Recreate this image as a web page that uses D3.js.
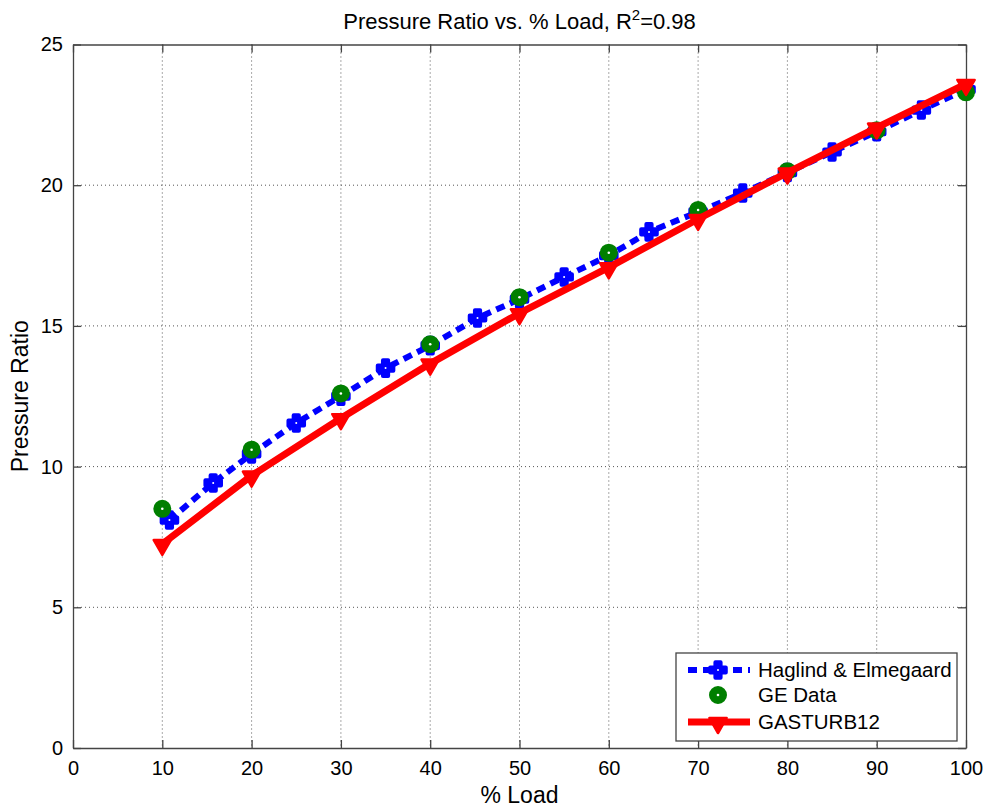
<!DOCTYPE html>
<html>
<head>
<meta charset="utf-8">
<script src="https://cdn.jsdelivr.net/npm/d3@7"></script>
<style>
  body { margin: 0; background: #fff; }
  svg text { font-family: "Liberation Sans", Arial, sans-serif; fill: #000; }
</style>
</head>
<body>
<div id="chart"></div>
<script>
// Haglind & Elmegaard model
let hagX = [10.8, 15.7, 20, 25, 30, 35, 40, 45.3, 50, 55, 60, 64.5, 70, 75, 80, 85, 90, 95, 100];
let hagY = [8.1, 9.42, 10.45, 11.55, 12.5, 13.5, 14.3, 15.28, 15.95, 16.74, 17.5, 18.34, 19.05, 19.72, 20.45, 21.18, 21.9, 22.67, 23.4];

// GE data points
let geX = [10, 20, 30, 40, 50, 60, 70, 80, 90, 100];
let geY = [8.5, 10.6, 12.6, 14.35, 16.02, 17.6, 19.12, 20.5, 21.95, 23.3];

// GASTURB12
let gtX = [10, 20, 30, 40, 50, 60, 70, 80, 90, 100];
let gtY = [7.25, 9.68, 11.72, 13.66, 15.45, 17.08, 18.8, 20.45, 22.05, 23.6];

let xTicks = [0, 10, 20, 30, 40, 50, 60, 70, 80, 90, 100];
let yTicks = [0, 5, 10, 15, 20, 25];

let legendNames = ["Haglind & Elmegaard", "GE Data", "GASTURB12"];

let svgWidth = 987;
let svgHeight = 807;

let margin = { top: 44.5, right: 21, bottom: 59, left: 73 };
let width = svgWidth - margin.left - margin.right;
let height = svgHeight - margin.top - margin.bottom;

let svg = d3.select("#chart")
  .append("svg")
  .attr("width", svgWidth)
  .attr("height", svgHeight);

let chartGroup = svg.append("g")
  .attr("transform", `translate(${margin.left}, ${margin.top})`);

let xScale = d3.scaleLinear().domain([0, 100]).range([0, width]);
let yScale = d3.scaleLinear().domain([0, 25]).range([height, 0]);

// dotted grid
chartGroup.append("g")
  .selectAll("line")
  .data(xTicks.slice(1, -1))
  .enter()
  .append("line")
  .attr("x1", d => xScale(d)).attr("x2", d => xScale(d))
  .attr("y1", 0).attr("y2", height)
  .attr("stroke", "#555")
  .attr("stroke-width", 1)
  .attr("stroke-dasharray", "1,3");

chartGroup.append("g")
  .selectAll("line")
  .data(yTicks.slice(1, -1))
  .enter()
  .append("line")
  .attr("x1", 0).attr("x2", width)
  .attr("y1", d => yScale(d)).attr("y2", d => yScale(d))
  .attr("stroke", "#555")
  .attr("stroke-width", 1)
  .attr("stroke-dasharray", "1,3");

// axes, ticks pointing inward
let bottomAxis = d3.axisBottom(xScale).tickValues(xTicks).tickSizeInner(-8).tickSizeOuter(0).tickPadding(13);
let leftAxis = d3.axisLeft(yScale).tickValues(yTicks).tickSizeInner(-8).tickSizeOuter(0).tickPadding(10);
let topAxis = d3.axisTop(xScale).tickValues(xTicks).tickSizeInner(-8).tickSizeOuter(0).tickFormat("");
let rightAxis = d3.axisRight(yScale).tickValues(yTicks).tickSizeInner(-8).tickSizeOuter(0).tickFormat("");

function styleAxis(g) {
  g.select(".domain").attr("stroke", "#444").attr("stroke-width", 1.3);
  g.selectAll(".tick line").attr("stroke", "#444").attr("stroke-width", 1.3);
  g.selectAll(".tick text").style("font-size", "20px").attr("fill", "#000");
}

chartGroup.append("g").attr("transform", `translate(0, ${height})`).call(bottomAxis).call(styleAxis);
chartGroup.append("g").call(leftAxis).call(styleAxis);
chartGroup.append("g").call(topAxis).call(styleAxis);
chartGroup.append("g").attr("transform", `translate(${width}, 0)`).call(rightAxis).call(styleAxis);

// marker helpers
let crossSym = d3.symbol().type(d3.symbolCross).size(135);
let triSym = d3.symbol().type(d3.symbolTriangle).size(130);

function drawCross(g, cx, cy) {
  g.append("path")
    .attr("d", crossSym())
    .attr("transform", `translate(${cx}, ${cy})`)
    .attr("fill", "#0000ff")
    .attr("stroke", "#0000ff")
    .attr("stroke-width", 4)
    .attr("stroke-linejoin", "round");
  g.append("circle").attr("cx", cx).attr("cy", cy).attr("r", 1).attr("fill", "#fff");
}

function drawCircle(g, cx, cy) {
  g.append("circle").attr("cx", cx).attr("cy", cy).attr("r", 7)
    .attr("fill", "#007f00").attr("stroke", "#007f00").attr("stroke-width", 4);
  g.append("circle").attr("cx", cx).attr("cy", cy).attr("r", 1.3).attr("fill", "#fff");
}

function drawTri(g, cx, cy) {
  g.append("path")
    .attr("d", triSym())
    .attr("transform", `translate(${cx}, ${cy + 1}) rotate(180)`)
    .attr("fill", "#ff0000")
    .attr("stroke", "#ff0000")
    .attr("stroke-width", 2.5)
    .attr("stroke-linejoin", "round");
}

let line = d3.line().x(d => xScale(d[0])).y(d => yScale(d[1]));

// Haglind & Elmegaard
let hagData = hagX.map((x, i) => [x, hagY[i]]);
chartGroup.append("path")
  .datum(hagData)
  .attr("d", line)
  .attr("fill", "none")
  .attr("stroke", "#0000ff")
  .attr("stroke-width", 6)
  .attr("stroke-dasharray", "9,6");
let hagG = chartGroup.append("g");
hagData.forEach(d => drawCross(hagG, xScale(d[0]), yScale(d[1])));

// GE Data
let geData = geX.map((x, i) => [x, geY[i]]);
let geG = chartGroup.append("g");
geData.forEach(d => drawCircle(geG, xScale(d[0]), yScale(d[1])));

// GASTURB12
let gtData = gtX.map((x, i) => [x, gtY[i]]);
chartGroup.append("path")
  .datum(gtData)
  .attr("d", line)
  .attr("fill", "none")
  .attr("stroke", "#ff0000")
  .attr("stroke-width", 7)
  .attr("stroke-linejoin", "round");
let gtG = chartGroup.append("g");
gtData.forEach(d => drawTri(gtG, xScale(d[0]), yScale(d[1])));

// legend
let legend = svg.append("g").attr("transform", "translate(676, 653)");
legend.append("rect")
  .attr("width", 281).attr("height", 88)
  .attr("fill", "#fff")
  .attr("stroke", "#444")
  .attr("stroke-width", 1.3);

let rowY = [17, 42, 69];
legend.append("line")
  .attr("x1", 12).attr("x2", 74).attr("y1", rowY[0]).attr("y2", rowY[0])
  .attr("stroke", "#0000ff").attr("stroke-width", 6).attr("stroke-dasharray", "9,6");
drawCross(legend, 42, rowY[0]);
drawCircle(legend, 42, rowY[1]);
legend.append("line")
  .attr("x1", 12).attr("x2", 74).attr("y1", rowY[2]).attr("y2", rowY[2])
  .attr("stroke", "#ff0000").attr("stroke-width", 7);
drawTri(legend, 42, rowY[2]);

legend.selectAll("text.lbl")
  .data(legendNames)
  .enter()
  .append("text")
  .attr("class", "lbl")
  .attr("x", 82)
  .attr("y", (d, i) => rowY[i])
  .attr("dy", "0.36em")
  .style("font-size", "20.5px")
  .text(d => d);

// title
let title = svg.append("text")
  .attr("x", margin.left + width / 2)
  .attr("y", 29)
  .attr("text-anchor", "middle")
  .style("font-size", "22px");
title.append("tspan").text("Pressure Ratio vs. % Load, R");
title.append("tspan").attr("dy", -9).style("font-size", "15px").text("2");
title.append("tspan").attr("dy", 9).text("=0.98");

// axis labels
svg.append("text")
  .attr("x", margin.left + width / 2)
  .attr("y", 803)
  .attr("text-anchor", "middle")
  .style("font-size", "23px")
  .text("% Load");

svg.append("text")
  .attr("transform", `translate(28, ${margin.top + height / 2}) rotate(-90)`)
  .attr("text-anchor", "middle")
  .style("font-size", "23px")
  .text("Pressure Ratio");
</script>
</body>
</html>
